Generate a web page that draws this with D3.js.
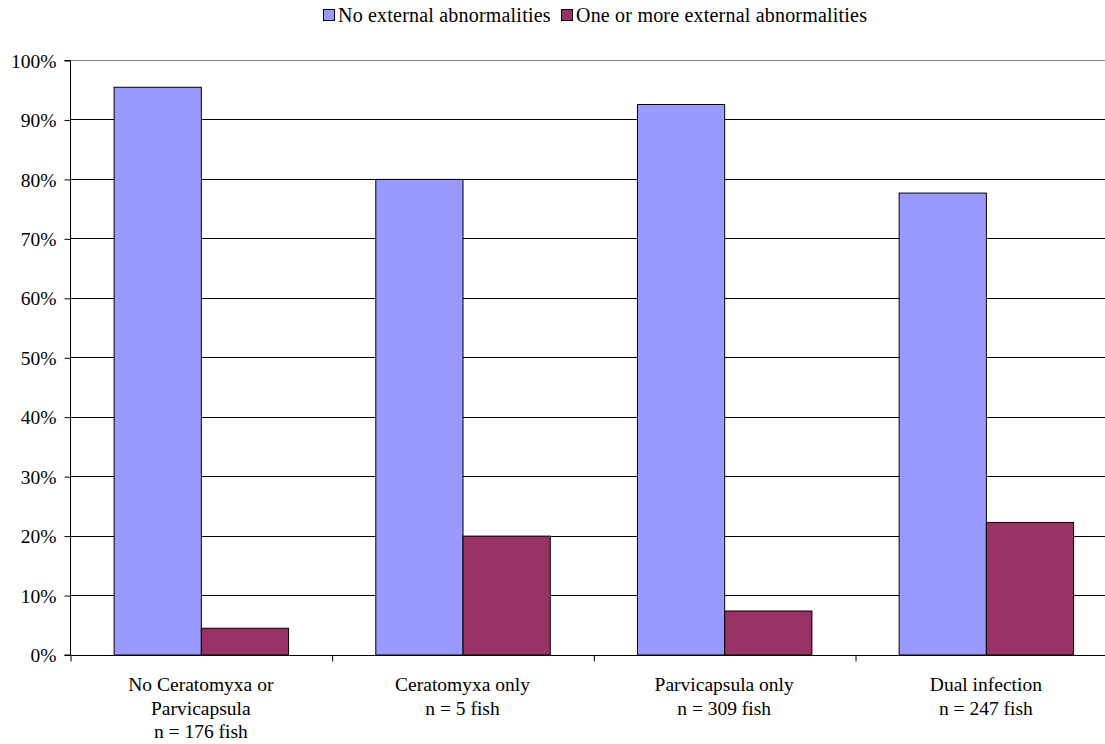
<!DOCTYPE html>
<html><head><meta charset="utf-8">
<script src="https://cdn.jsdelivr.net/npm/d3@7"></script>
<style>body{margin:0;background:#fff}svg{display:block}svg text{font-family:'Liberation Serif','Times New Roman',Times,'DejaVu Serif',serif !important;fill:#000}</style>
</head><body><svg id="c" width="1105" height="744"></svg>
<script>
const categories = [
  ["No Ceratomyxa or","Parvicapsula","n = 176 fish"],
  ["Ceratomyxa only","n = 5 fish"],
  ["Parvicapsula only","n = 309 fish"],
  ["Dual infection","n = 247 fish"]
];
const seriesNames = ["No external abnormalities","One or more external abnormalities"];
const noAbn = [95.5, 80.0, 92.6, 77.7];
const oneAbn = [4.5, 20.0, 7.4, 22.3];
const yTicks = [0,10,20,30,40,50,60,70,80,90,100];
const colors = ["#9999FF","#993366"];

(function(){
const FONT = "'Liberation Serif','Times New Roman',Times,'DejaVu Serif',serif";
const svg = d3.select("#c");
const pL = 70, pR = 1116.7, pT = 60, pB = 654.5;
const x = d3.scaleBand().domain(d3.range(categories.length)).range([pL, pR]).paddingInner(0).paddingOuter(0);
const xs = d3.scaleBand().domain([0,1]).range([0, x.bandwidth()]).paddingInner(0).paddingOuter(0.5);
const y = d3.scaleLinear().domain([0,100]).range([pB, pT]);

// gridlines
svg.append("g").selectAll("line").data(yTicks.filter(d=>d>0)).join("line")
  .attr("x1", pL).attr("x2", pR)
  .attr("y1", d=>Math.round(y(d))+0.5).attr("y2", d=>Math.round(y(d))+0.5)
  .attr("stroke", d=>d===100?"#808080":"#000").attr("stroke-width",1);

// bars
const series = [noAbn, oneAbn];
series.forEach((vals, si) => {
  svg.append("g").selectAll("rect").data(vals).join("rect")
    .attr("x", (d,i)=>x(i)+xs(si)+0.5)
    .attr("width", xs.bandwidth())
    .attr("y", d=>y(d)+0.5)
    .attr("height", d=>pB - y(d))
    .attr("fill", colors[si]).attr("stroke","#000").attr("stroke-width",1);
});

// y axis
const yAxis = d3.axisLeft(y).tickValues(yTicks).tickFormat(d=>d+"%").tickSize(6).tickPadding(8);
const ya = svg.append("g").attr("transform",`translate(${pL+0.5},0.5)`).call(yAxis)
  .attr("font-family", FONT).attr("font-size", 19.5);
ya.select(".domain").attr("stroke","#000").attr("d",`M-6,${pT}H0V${pB}H-6`);
ya.selectAll("line").attr("stroke","#000");
ya.selectAll("text").attr("fill","#000").attr("dy","0.34em");

// x axis
const xAxis = d3.axisBottom(d3.scaleLinear().domain([0,4]).range([pL,pR])).tickValues([0,1,2,3,4]).tickSize(6).tickFormat("");
const xa = svg.append("g").attr("transform",`translate(0.5,${Math.round(pB)+0.5})`).call(xAxis);
xa.select(".domain").attr("stroke","#000").attr("d",`M${pL},0H${pR}`);
xa.selectAll("line").attr("stroke","#000");

// category labels
const lbl = svg.append("g").attr("font-family", FONT).attr("font-size", 19.5);
categories.forEach((lines,i)=>{
  const t = lbl.append("text").attr("text-anchor","middle")
    .attr("x", x(i)+x.bandwidth()/2).attr("y", 691);
  lines.forEach((l,j)=>t.append("tspan").attr("x", x(i)+x.bandwidth()/2).attr("dy", j?23.5:0).text(l));
});

// legend
const lg = svg.append("g").attr("font-family", FONT).attr("font-size", 20).attr("letter-spacing", 0.2);
const legX = [323, 561];
seriesNames.forEach((n,i)=>{
  lg.append("rect").attr("x",legX[i]+0.5).attr("y",9.5).attr("width",11).attr("height",11)
    .attr("fill",colors[i]).attr("stroke","#000");
  lg.append("text").attr("x",legX[i]+15).attr("y",21.5).text(n);
});
})();
</script></body></html>
